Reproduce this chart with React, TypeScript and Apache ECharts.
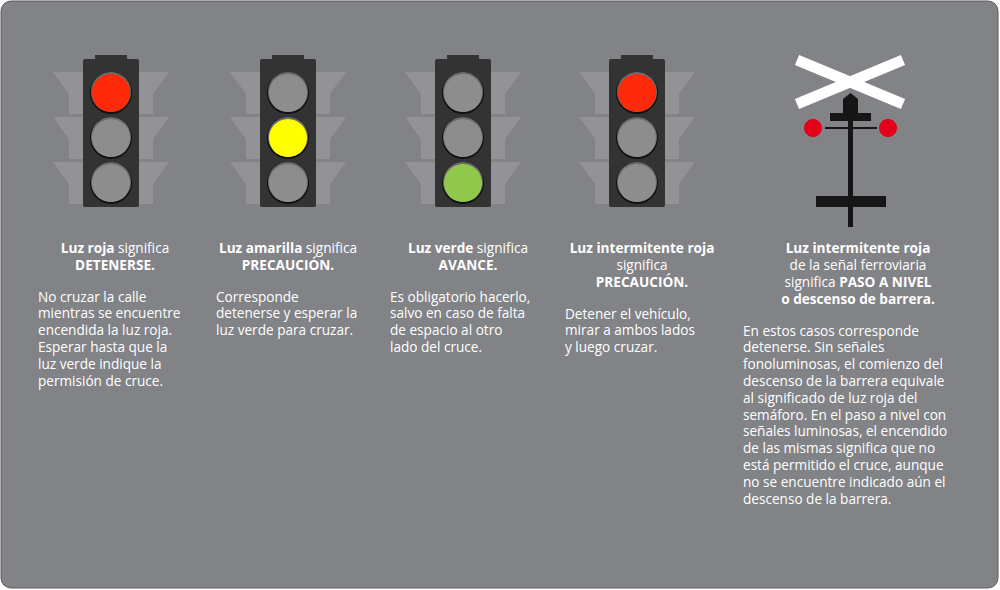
import React, { useEffect, useRef } from 'react';
import * as echarts from 'echarts';

const lightCenters = [111, 288, 463, 637];
const lightOn = [0, 1, 2, 0];
const lightColors = ['#ff2a0a', '#ffff00', '#8fc84a'];
const headings = [
  ['{b|Luz roja} significa', '{b|DETENERSE.}'],
  ['{b|Luz amarilla} significa', '{b|PRECAUCIÓN.}'],
  ['{b|Luz verde} significa', '{b|AVANCE.}'],
  ['{b|Luz intermitente roja}', 'significa', '{b|PRECAUCIÓN.}'],
  ['{b|Luz intermitente roja}', 'de la señal ferroviaria', 'significa {b|PASO A NIVEL}', '{b|o descenso de barrera.}'],
];
const headingX = [115, 288, 468, 642, 858];
const bodyX = [38, 216, 390, 565, 743];
const bodies = [
  ['No cruzar la calle', 'mientras se encuentre', 'encendida la luz roja.', 'Esperar hasta que la', 'luz verde indique la', 'permisión de cruce.'],
  ['Corresponde', 'detenerse y esperar la', 'luz verde para cruzar.'],
  ['Es obligatorio hacerlo,', 'salvo en caso de falta', 'de espacio al otro', 'lado del cruce.'],
  ['Detener el vehículo,', 'mirar a ambos lados', 'y luego cruzar.'],
  ['En estos casos corresponde', 'detenerse. Sin señales', 'fonoluminosas, el comienzo del', 'descenso de la barrera equivale', 'al significado de luz roja del', 'semáforo. En el paso a nivel con', 'señales luminosas, el encendido', 'de las mismas significa que no', 'está permitido el cruce, aunque', 'no se encuentre indicado aún el', 'descenso de la barrera.'],
];

const FONT = '"Open Sans", sans-serif';
const FS = 13.6;
const LH = 16.8;

const App: React.FC = () => {
  const ref = useRef<HTMLDivElement | null>(null);

  useEffect(() => {
    const chart = echarts.init(ref.current!, null, { renderer: 'svg' });
    const els: any[] = [];
    els.push({ type: 'rect', shape: { x: 1, y: 1, width: 997, height: 587, r: 10 }, style: { fill: '#828387', stroke: '#5c5d60', lineWidth: 1 } });

    lightCenters.forEach((cx, i) => {
      [92, 137, 182].forEach((cy) => {
        els.push({ type: 'polygon', shape: { points: [[cx - 58, cy - 20], [cx + 58, cy - 20], [cx + 42, cy + 2], [cx + 42, cy + 22], [cx - 42, cy + 22], [cx - 42, cy + 2]] }, style: { fill: '#939397' } });
      });
      els.push({ type: 'rect', shape: { x: cx - 16, y: 55, width: 32, height: 8 }, style: { fill: '#333333' } });
      els.push({ type: 'rect', shape: { x: cx - 28, y: 59, width: 56, height: 148, r: 2 }, style: { fill: '#333333' } });
      [92, 137, 182].forEach((cy, k) => {
        els.push({ type: 'circle', shape: { cx, cy: cy + 1, r: 21 }, style: { fill: '#111' } });
        els.push({ type: 'circle', shape: { cx, cy, r: 20 }, style: { fill: '#6b6b6b' } });
        const on = k === lightOn[i];
        els.push({ type: 'circle', shape: { cx, cy: cy + 1, r: 19 }, style: { fill: on ? lightColors[lightOn[i]] : '#8d8d8d' } });
      });
    });

    // railway sign
    els.push({ type: 'line', shape: { x1: 797, y1: 60, x2: 903, y2: 104 }, style: { stroke: '#fff', lineWidth: 11 } });
    els.push({ type: 'line', shape: { x1: 797, y1: 104, x2: 903, y2: 60 }, style: { stroke: '#fff', lineWidth: 11 } });
    els.push({ type: 'rect', shape: { x: 848, y: 110, width: 5, height: 117 }, style: { fill: '#161616' } });
    els.push({ type: 'polygon', shape: { points: [[850.5, 93], [858, 99], [858, 116], [843, 116], [843, 99]] }, style: { fill: '#161616' } });
    els.push({ type: 'rect', shape: { x: 830, y: 113, width: 41, height: 8 }, style: { fill: '#161616' } });
    els.push({ type: 'rect', shape: { x: 825, y: 127, width: 52, height: 2 }, style: { fill: '#161616' } });
    els.push({ type: 'circle', shape: { cx: 813, cy: 128, r: 9 }, style: { fill: '#e3001b' } });
    els.push({ type: 'circle', shape: { cx: 888, cy: 128, r: 9 }, style: { fill: '#e3001b' } });
    els.push({ type: 'rect', shape: { x: 816, y: 196, width: 70, height: 11 }, style: { fill: '#161616' } });

    headings.forEach((lines, i) => {
      lines.forEach((t, j) => {
        els.push({ type: 'text', x: headingX[i], y: 247 + j * 17, style: { text: t, fill: '#fff', font: `${FS}px ${FONT}`, align: 'center', verticalAlign: 'middle', rich: { b: { fontWeight: 'bold', fontSize: FS, fontFamily: FONT, fill: '#fff' } } } });
      });
    });
    bodies.forEach((lines, i) => {
      const y0 = headings[i].length * 17 + 247 + 15;
      lines.forEach((t, j) => {
        els.push({ type: 'text', x: bodyX[i], y: y0 + j * LH, style: { text: t, fill: '#fff', font: `${FS}px ${FONT}`, align: 'left', verticalAlign: 'middle' } });
      });
    });

    chart.setOption({ animation: false, graphic: { elements: els } });
    return () => chart.dispose();
  }, []);

  return <div ref={ref} style={{ width: 1000, height: 590, position: 'absolute', left: 0, top: 0 }} />;
};

export default App;
